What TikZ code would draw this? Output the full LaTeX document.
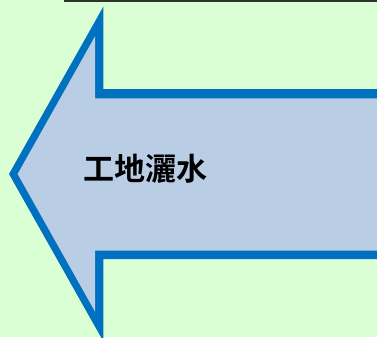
\documentclass[tikz,border=0pt]{standalone}
\usepackage{fontspec}
\newfontfamily\cjk{Noto Sans CJK TC}[BoldFont={Noto Sans CJK TC Bold}]
\definecolor{bgreen}{HTML}{DAFFD5}
\definecolor{ablue}{HTML}{0070C0}
\definecolor{afill}{HTML}{B9CDE5}
\definecolor{topline}{HTML}{303030}
\tikzset{
  outerarrow/.style={fill=ablue, draw=none},
  innerarrow/.style={fill=afill, draw=none},
  label/.style={font=\cjk\bfseries\fontsize{31}{31}\selectfont, text=black, inner sep=0pt}
}
\begin{document}
\begin{tikzpicture}[x=1pt,y=-1pt]
\fill[bgreen] (0,0) rectangle (377,337);
\useasboundingbox (0,0) rectangle (377,337);
\begin{scope}
\clip (0,0) rectangle (377,337);
\fill[topline] (64,0) rectangle (377,1.8);
\path[outerarrow] (9,174) -- (103.3,6.7) -- (103.3,89) -- (380,89) -- (380,259) -- (103.3,259) -- (103.3,341.3) -- cycle;
\path[innerarrow] (17.6,174) -- (95,36.4) -- (95,98.3) -- (380,98.3) -- (380,250.7) -- (95,250.7) -- (95,311.6) -- cycle;
\end{scope}
\node[label] (t) at (145,169) {工地灑水};
\end{tikzpicture}
\end{document}
